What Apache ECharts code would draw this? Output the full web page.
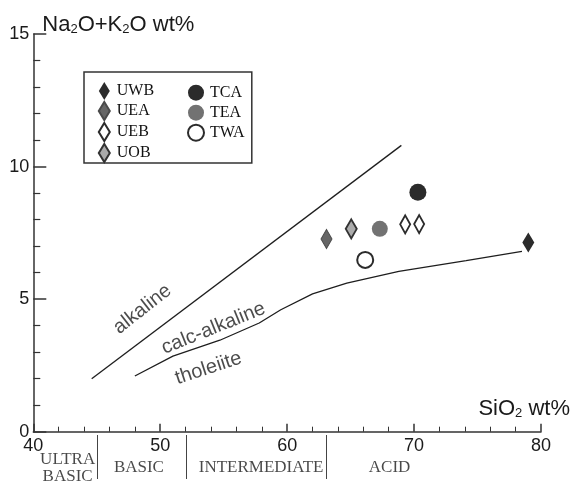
<!DOCTYPE html>
<html>
<head>
<meta charset="utf-8">
<title>Na2O+K2O vs SiO2</title>
<script src="https://cdn.jsdelivr.net/npm/echarts@6/dist/echarts.min.js"></script>
<style>
  html, body { margin: 0; padding: 0; background: #fff; }
  #chart { width: 573px; height: 485px; }
</style>
</head>
<body>
<div id="chart"></div>
<script>
// sample points [SiO2, Na2O+K2O]
const uwb = [[79.0, 7.14]]
const uea = [[63.1, 7.27]]
const ueb = [[69.3, 7.82], [70.4, 7.83]]
const uob = [[65.05, 7.65]]
const tca = [[70.3, 9.03]]
const tea = [[67.3, 7.65]]
const twa = [[66.15, 6.48]]

// boundary lines
const alkalineLine = [[44.6, 2.0], [69.0, 10.8]]
const tholeiiteLine = [[48.0, 2.1], [51.0, 2.85], [54.7, 3.45], [57.8, 4.1], [59.5, 4.6],
  [62.0, 5.2], [64.7, 5.6], [68.8, 6.05], [74.1, 6.45], [78.5, 6.8]]

// field names written along the lines
const noteText = ['alkaline', 'calc-alkaline', 'tholeiite']
const noteX = [48.6, 54.2, 53.8]
const noteY = [4.62, 3.9, 2.39]
const noteAngle = [38, 22, 18]

// rock classes under the SiO2 axis
const classNames = ['ULTRA\nBASIC', 'BASIC', 'INTERMEDIATE', 'ACID']
const classCenters = [42.7, 48.3, 57.9, 68.0]
const classBounds = [45, 52, 63]

const sans = 'Liberation Sans'
const serif = 'Liberation Serif'
const ink = '#1e1e1e'

const chart = echarts.init(document.getElementById('chart'))

function sample (name, data, symbol, size, itemStyle) {
  return {
    type: 'scatter',
    name: name,
    data: data,
    symbol: symbol,
    symbolSize: size,
    itemStyle: Object.assign({ opacity: 1 }, itemStyle),
    silent: true,
    z: 5
  }
}

const legendText = { fontFamily: serif, fontSize: 16, color: '#111', lineHeight: 18, height: 18 }

const option = {
  animation: false,
  backgroundColor: '#fff',
  grid: [
    { left: 33.3, right: 30.7, top: 34, bottom: 53.3 },
    { left: 33.3, right: 30.7, top: 435, bottom: 6 }
  ],
  legend: [
    {
      data: ['UWB', 'UEA', 'UEB', 'UOB'],
      orient: 'vertical',
      left: 84,
      top: 72,
      itemWidth: 11,
      itemHeight: 18,
      itemGap: 1,
      padding: [10, 95, 0, 13.8],
      borderColor: '#333',
      borderWidth: 1.5,
      selectedMode: false,
      textStyle: Object.assign({ width: 40, padding: [0, 0, 0, 2] }, legendText)
    },
    {
      data: ['TCA', 'TEA', 'TWA'],
      orient: 'vertical',
      left: 187,
      top: 83.7,
      itemWidth: 16,
      itemHeight: 16,
      itemGap: 2,
      padding: 0,
      selectedMode: false,
      textStyle: Object.assign({ padding: [0, 0, 0, 1] }, legendText)
    }
  ],
  xAxis: [
    {
      type: 'value',
      gridIndex: 0,
      min: 40,
      max: 80,
      interval: 10,
      name: 'SiO{sub|2} wt%',
      nameLocation: 'end',
      nameGap: 29,
      nameTextStyle: {
        fontFamily: sans,
        fontSize: 22,
        color: '#1a1a1a',
        align: 'right',
        verticalAlign: 'bottom',
        padding: [0, 0, 12, 0],
        rich: { sub: { fontFamily: sans, fontSize: 13, color: '#1a1a1a', verticalAlign: 'bottom' } }
      },
      axisLine: { lineStyle: { color: '#333', width: 1.5 } },
      axisTick: { inside: true, length: 8, lineStyle: { color: '#333', width: 1.5 } },
      minorTick: { show: true, splitNumber: 5, length: 5, lineStyle: { color: '#333', width: 1 } },
      axisLabel: { fontFamily: sans, fontSize: 18, color: '#1a1a1a', margin: 5 },
      splitLine: { show: false }
    },
    { type: 'value', gridIndex: 1, min: 40, max: 80, show: false }
  ],
  yAxis: [
    {
      type: 'value',
      gridIndex: 0,
      min: 0,
      max: 15,
      interval: 5,
      name: 'Na{sub|2}O+K{sub|2}O wt%',
      nameLocation: 'end',
      nameGap: -2,
      nameTextStyle: {
        fontFamily: sans,
        fontSize: 22,
        color: '#1a1a1a',
        align: 'left',
        verticalAlign: 'bottom',
        padding: [0, 0, 0, 9],
        rich: { sub: { fontFamily: sans, fontSize: 13, color: '#1a1a1a', verticalAlign: 'bottom' } }
      },
      axisLine: { lineStyle: { color: '#333', width: 1.5 } },
      axisTick: { inside: true, length: 13, lineStyle: { color: '#333', width: 1.5 } },
      minorTick: { show: true, splitNumber: 5, length: 7, lineStyle: { color: '#333', width: 1.2 } },
      axisLabel: { fontFamily: sans, fontSize: 18, color: '#1a1a1a', margin: 4 },
      splitLine: { show: false }
    },
    { type: 'value', gridIndex: 1, min: 0, max: 1, show: false }
  ],
  series: [
    {
      type: 'line',
      name: 'alkaline-limit',
      data: alkalineLine,
      symbol: 'none',
      lineStyle: { color: ink, width: 1.3 },
      silent: true
    },
    {
      type: 'line',
      name: 'tholeiite-limit',
      data: tholeiiteLine,
      symbol: 'none',
      lineStyle: { color: ink, width: 1.3 },
      silent: true
    },
    sample('UWB', uwb, 'diamond', [12, 20], { color: '#2b2b2b' }),
    sample('UEA', uea, 'diamond', [11, 19], { color: '#666', borderColor: '#4a4a4a', borderWidth: 1 }),
    sample('UEB', ueb, 'diamond', [10, 18], { color: '#fff', borderColor: '#2b2b2b', borderWidth: 2 }),
    sample('UOB', uob, 'diamond', [11, 19], { color: '#ababab', borderColor: '#333', borderWidth: 2 }),
    sample('TCA', tca, 'circle', 17, { color: '#2b2b2b' }),
    sample('TEA', tea, 'circle', 16, { color: '#727272' }),
    sample('TWA', twa, 'circle', 16, { color: '#fff', borderColor: '#2b2b2b', borderWidth: 2 }),
    {
      type: 'scatter',
      name: 'notes',
      data: noteText.map((t, i) => ({
        value: [noteX[i], noteY[i]],
        name: t,
        label: { rotate: noteAngle[i] }
      })),
      symbolSize: 1,
      itemStyle: { color: 'transparent' },
      label: {
        show: true,
        position: 'inside',
        formatter: '{b}',
        fontFamily: sans,
        fontSize: 20,
        color: ink
      },
      silent: true
    },
    {
      type: 'scatter',
      name: 'classes',
      xAxisIndex: 1,
      yAxisIndex: 1,
      data: classNames.map((t, i) => ({ value: [classCenters[i], 0.26], name: t })),
      symbolSize: 1,
      itemStyle: { color: 'transparent' },
      label: {
        show: true,
        position: 'inside',
        formatter: '{b}',
        fontFamily: serif,
        fontSize: 17,
        lineHeight: 17,
        color: '#1a1a1a'
      },
      markLine: {
        silent: true,
        symbol: ['none', 'none'],
        label: { show: false },
        lineStyle: { color: '#444', width: 1, type: 'solid' },
        data: classBounds.map(x => ({ xAxis: x }))
      },
      silent: true
    }
  ]
}

chart.setOption(option)
</script>
</body>
</html>
